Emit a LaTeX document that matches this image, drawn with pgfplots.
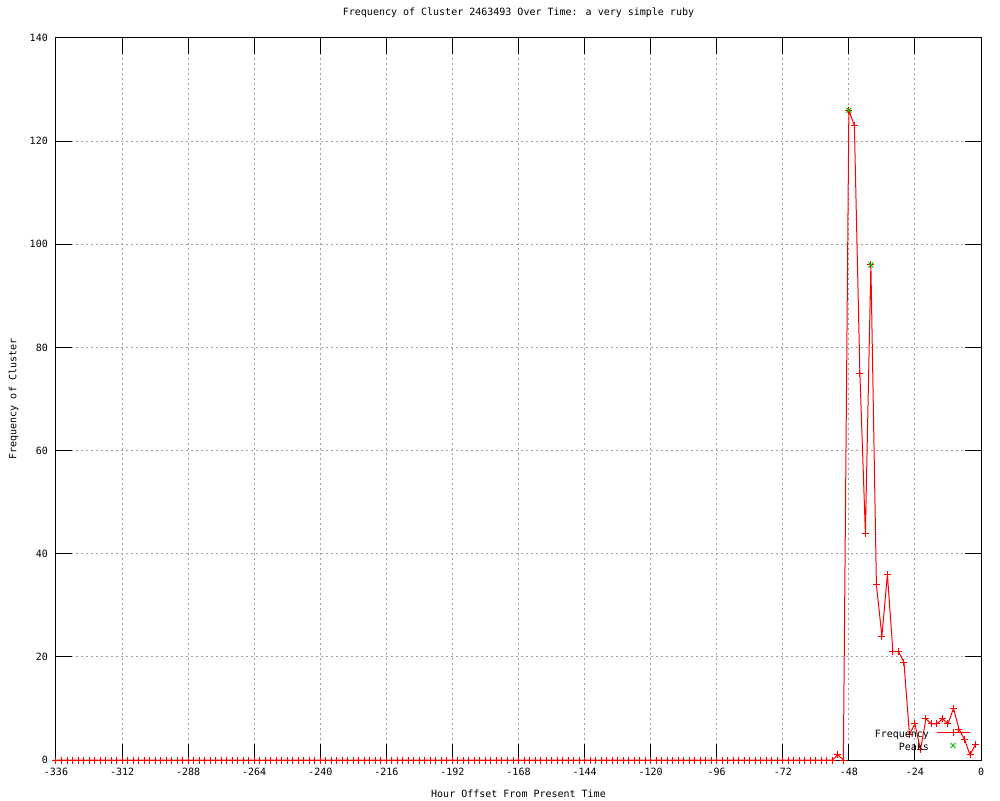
\documentclass[border=0pt]{standalone}
\usepackage{fontspec}
\setmainfont{DejaVu Sans Mono}
\usepackage{pgfplots}
\pgfplotsset{compat=1.18}
\usepackage{pgfplotstable}
\definecolor{gpred}{RGB}{255,0,0}
\definecolor{gpgreen}{RGB}{0,192,0}
\pgfplotstableread[row sep=\\]{
x y\\
-336 0\\ -334 0\\ -332 0\\ -330 0\\ -328 0\\ -326 0\\ -324 0\\ -322 0\\ -320 0\\ -318 0\\
-316 0\\ -314 0\\ -312 0\\ -310 0\\ -308 0\\ -306 0\\ -304 0\\ -302 0\\ -300 0\\ -298 0\\
-296 0\\ -294 0\\ -292 0\\ -290 0\\ -288 0\\ -286 0\\ -284 0\\ -282 0\\ -280 0\\ -278 0\\
-276 0\\ -274 0\\ -272 0\\ -270 0\\ -268 0\\ -266 0\\ -264 0\\ -262 0\\ -260 0\\ -258 0\\
-256 0\\ -254 0\\ -252 0\\ -250 0\\ -248 0\\ -246 0\\ -244 0\\ -242 0\\ -240 0\\ -238 0\\
-236 0\\ -234 0\\ -232 0\\ -230 0\\ -228 0\\ -226 0\\ -224 0\\ -222 0\\ -220 0\\ -218 0\\
-216 0\\ -214 0\\ -212 0\\ -210 0\\ -208 0\\ -206 0\\ -204 0\\ -202 0\\ -200 0\\ -198 0\\
-196 0\\ -194 0\\ -192 0\\ -190 0\\ -188 0\\ -186 0\\ -184 0\\ -182 0\\ -180 0\\ -178 0\\
-176 0\\ -174 0\\ -172 0\\ -170 0\\ -168 0\\ -166 0\\ -164 0\\ -162 0\\ -160 0\\ -158 0\\
-156 0\\ -154 0\\ -152 0\\ -150 0\\ -148 0\\ -146 0\\ -144 0\\ -142 0\\ -140 0\\ -138 0\\
-136 0\\ -134 0\\ -132 0\\ -130 0\\ -128 0\\ -126 0\\ -124 0\\ -122 0\\ -120 0\\ -118 0\\
-116 0\\ -114 0\\ -112 0\\ -110 0\\ -108 0\\ -106 0\\ -104 0\\ -102 0\\ -100 0\\ -98 0\\
-96 0\\ -94 0\\ -92 0\\ -90 0\\ -88 0\\ -86 0\\ -84 0\\ -82 0\\ -80 0\\ -78 0\\
-76 0\\ -74 0\\ -72 0\\ -70 0\\ -68 0\\ -66 0\\ -64 0\\ -62 0\\ -60 0\\ -58 0\\
-56 0\\ -54 0\\ -52 1\\ -50 0\\ -48 126\\ -46 123\\ -44 75\\ -42 44\\ -40 96\\ -38 34\\
-36 24\\ -34 36\\ -32 21\\ -30 21\\ -28 19\\ -26 5\\ -24 7\\ -22 2\\ -20 8\\ -18 7\\
-16 7\\ -14 8\\ -12 7\\ -10 10\\ -8 6\\ -6 4\\ -4 1\\ -2 3\\
}\freq
\begin{document}
\begin{tikzpicture}
\useasboundingbox (-56pt,-40pt) rectangle (944pt,760pt);
\begin{axis}[
  at={(0pt,0pt)}, anchor=south west,
  scale only axis, width=925pt, height=722pt,
  clip=false,
  xmin=-336, xmax=0, ymin=0, ymax=140,
  xtick={-336,-312,...,0}, ytick={0,20,...,140},
  minor tick num=0,
  tick align=inside, major tick length=16pt,
  tick style={black, line width=1pt},
  axis line style={black, line width=1pt},
  grid=major,
  major grid style={black!37, line width=1pt, dash pattern=on 2pt off 3pt},
  /pgf/number format/assume math mode=true,
  /pgf/number format/1000 sep={},
  xticklabel style={anchor=north, inner sep=0pt, yshift=-8pt},
  yticklabel style={anchor=east, inner sep=0pt, xshift=-8pt},
  title={Frequency of Cluster 2463493 Over Time: a very simple ruby},
  title style={at={(axis description cs:0.5,1)}, anchor=base, yshift=16pt, inner sep=0pt},
  xlabel={Hour Offset From Present Time},
  xlabel style={at={(axis description cs:0.5,0)}, anchor=base, yshift=-37pt, inner sep=0pt},
  ylabel={Frequency of Cluster},
  ylabel style={at={([xshift=-42.5pt]axis description cs:0,0.5)}, anchor=center, inner sep=0pt},
  legend style={draw=none, fill=none, at={(axis description cs:1,0)}, anchor=south east,
    xshift=-11pt, yshift=7.5pt, inner sep=0pt, outer sep=0pt, row sep=4pt, column sep=7pt,
    nodes={inner sep=0pt, text height=7pt, text depth=2pt}},
  legend cell align=right, legend plot pos=right,
  legend image code/.code={\draw[mark repeat=2,mark phase=2] plot coordinates {(0pt,2.5pt) (16.5pt,2.5pt) (33pt,2.5pt)};},
]
\addplot[draw=gpred, line width=1pt, mark=+, mark size=3.5pt, mark options={solid, draw=gpred, line width=1pt}] table {\freq};
\addlegendentry{Frequency}
\addplot[draw=gpgreen, only marks, mark=x, mark size=3.5pt, line width=1pt, mark options={draw=gpgreen}] coordinates {(-48,126) (-40,96)};
\addlegendentry{Peaks}
\end{axis}
\end{tikzpicture}
\end{document}
